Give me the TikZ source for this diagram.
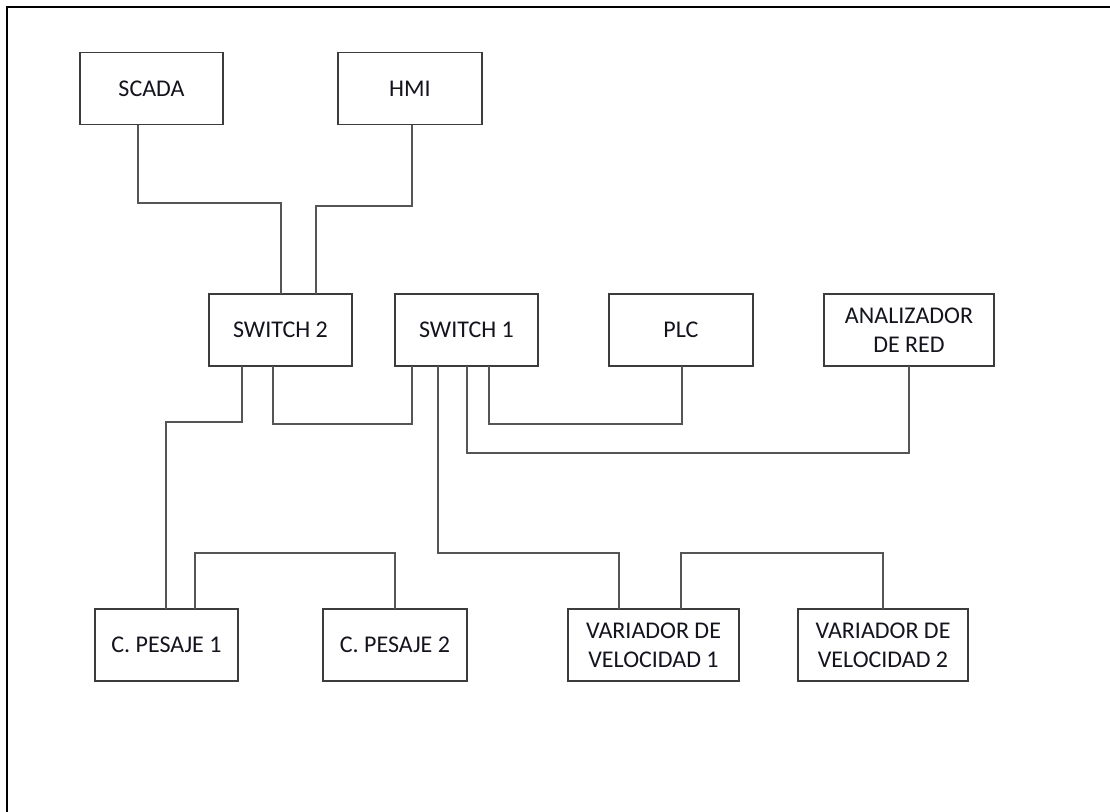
\documentclass[tikz,border=0pt]{standalone}
\usepackage{fontspec}
\setmainfont{Carlito}
\usetikzlibrary{calc}
\definecolor{boxline}{RGB}{60,60,60}
\definecolor{wire}{RGB}{85,85,85}
\definecolor{txt}{RGB}{20,20,30}
\begin{document}
\begin{tikzpicture}[x=1pt,y=-1pt,
  device/.style={draw=boxline,line width=1.6pt,fill=white,rectangle,
    minimum height=72pt,inner sep=0pt,align=center,text=txt,
    font=\fontsize{24}{29}\selectfont},
  wire/.style={draw=wire,line width=1.5pt,line cap=rect},
  frame/.style={draw=black,line width=2.4pt}]
\useasboundingbox (0,0) rectangle (1110,811);
% page frame (top and left edges only)
\draw[frame] (7,812) -- (7,7) -- (1111,7);

% devices
\node[device,minimum width=143pt] (scada) at (151.5,88.5) {SCADA};
\node[device,minimum width=144pt] (hmi)   at (410,88.5)   {HMI};
\node[device,minimum width=143pt] (sw2)  at (280.5,330) {SWITCH 2};
\node[device,minimum width=143pt] (sw1)  at (466.5,330) {SWITCH 1};
\node[device,minimum width=144pt] (plc)  at (681,330)   {PLC};
\node[device,minimum width=170pt] (ana)  at (909,330)   {ANALIZADOR\\DE RED};
\node[device,minimum width=143pt] (pes1) at (166.5,645) {C. PESAJE 1};
\node[device,minimum width=144pt] (pes2) at (395,645)   {C. PESAJE 2};
\node[device,minimum width=171pt] (var1) at (653.5,645) {VARIADOR DE\\VELOCIDAD 1};
\node[device,minimum width=170pt] (var2) at (883,645)   {VARIADOR DE\\VELOCIDAD 2};

% network links
\draw[wire] ($(scada.south)+(-13.5,0)$) |- ($(sw2.north)+(0.5,-90)$) -- ($(sw2.north)+(0.5,0)$);
\draw[wire] ($(hmi.south)+(2,0)$) |- ($(sw2.north)+(35.5,-87)$) -- ($(sw2.north)+(35.5,0)$);
\draw[wire] ($(sw2.south)+(-38.5,0)$) |- ($(pes1.north)+(-0.5,-186)$) -- ($(pes1.north)+(-0.5,0)$);
\draw[wire] ($(sw2.south)+(-7.5,0)$) |- ($(sw1.south)+(-54.5,57)$) -- ($(sw1.south)+(-54.5,0)$);
\draw[wire] ($(sw1.south)+(-28.5,0)$) |- ($(var1.north)+(-34.5,-55)$) -- ($(var1.north)+(-34.5,0)$);
\draw[wire] ($(sw1.south)+(0.5,0)$) |- ($(ana.south)+(0,86)$) -- (ana.south);
\draw[wire] ($(sw1.south)+(22.5,0)$) |- ($(plc.south)+(1,57)$) -- ($(plc.south)+(1,0)$);
\draw[wire] ($(pes1.north)+(28.5,0)$) |- ($(pes2.north)+(0,-55)$) -- (pes2.north);
\draw[wire] ($(var1.north)+(27.5,0)$) |- ($(var2.north)+(0,-55)$) -- (var2.north);
\end{tikzpicture}
\end{document}
